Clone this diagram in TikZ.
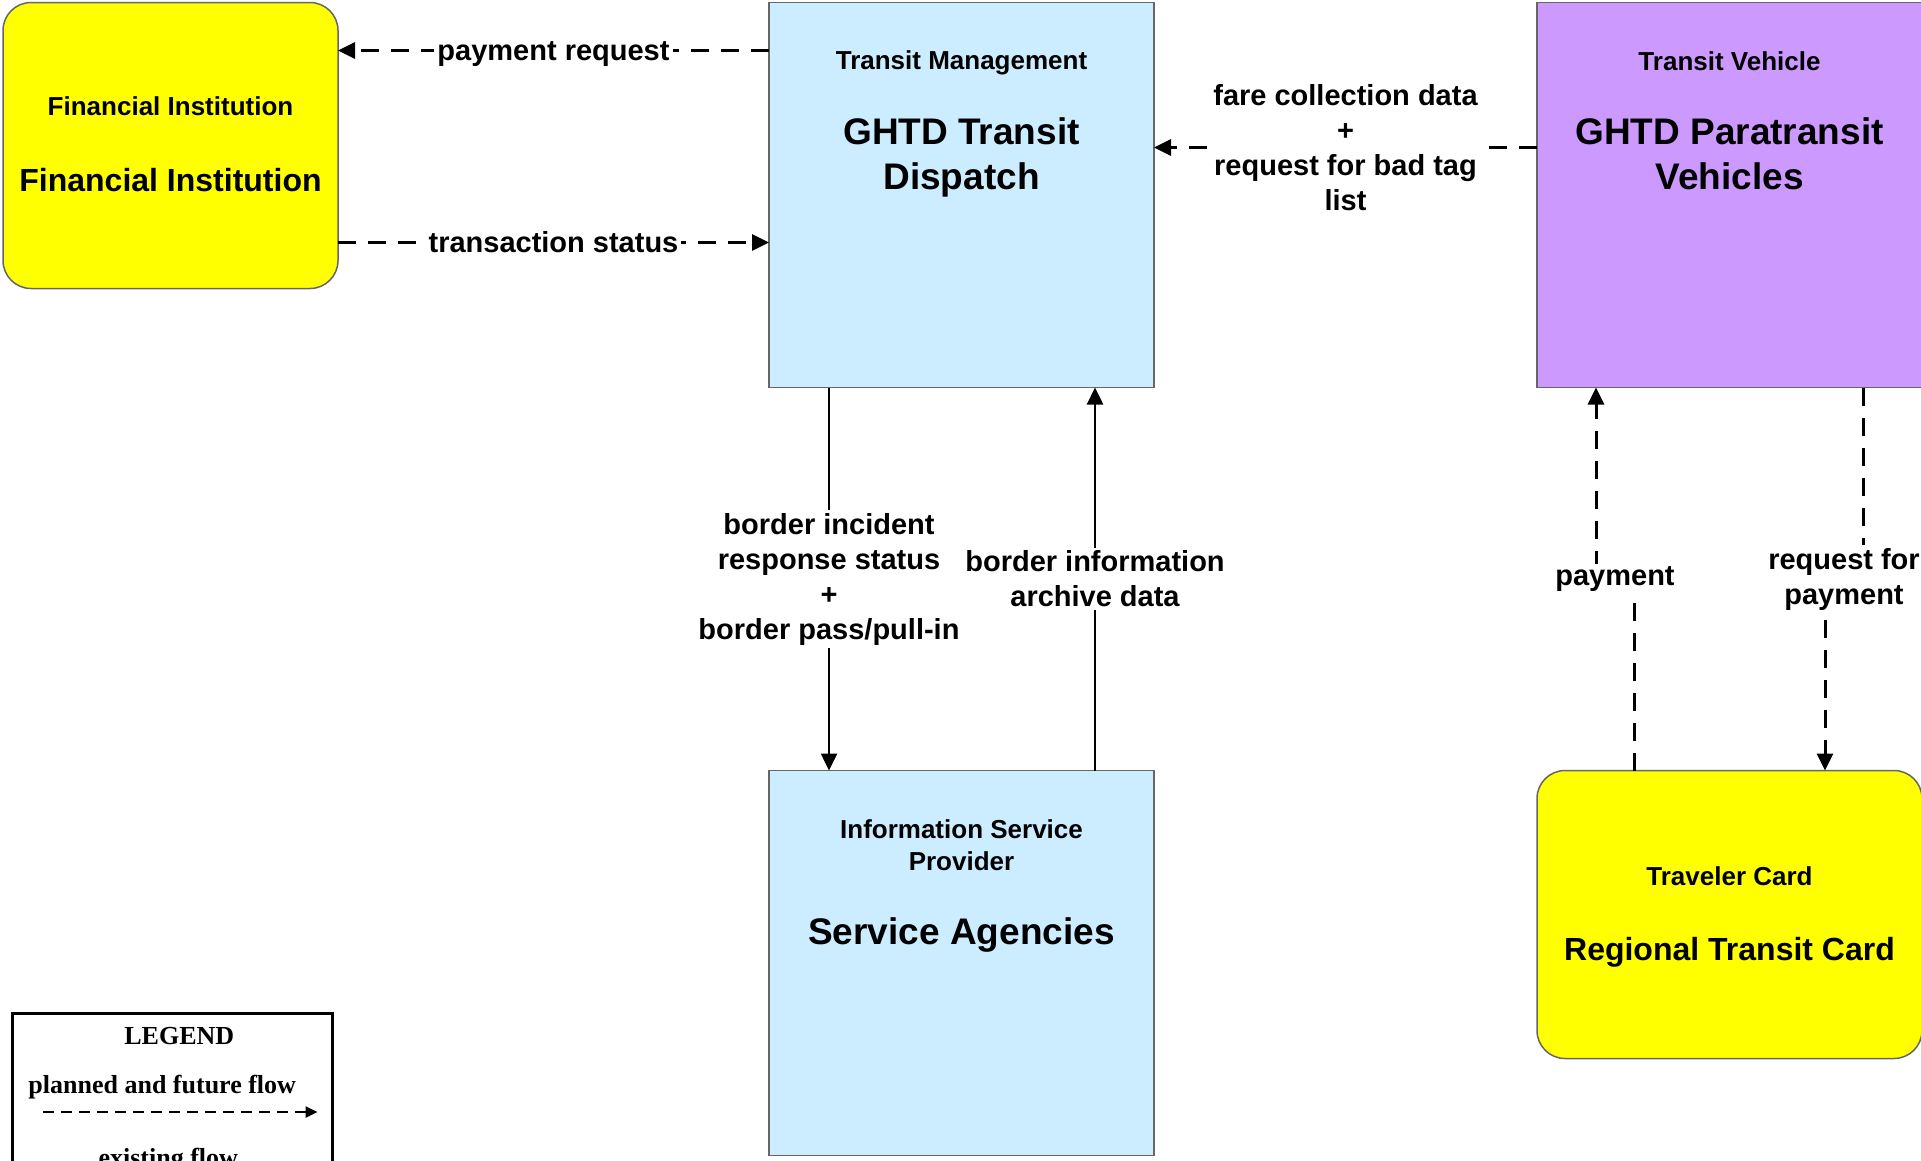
\documentclass[tikz,border=0pt]{standalone}
\usepackage{fontspec}
\setmainfont{Liberation Sans}
\newfontfamily\legendfont{Liberation Serif}
\usetikzlibrary{positioning, calc, arrows.meta}
\definecolor{skyblue}{HTML}{CCECFF}
\definecolor{lilac}{HTML}{CC99FF}
\definecolor{cardyellow}{HTML}{FFFF00}

\begin{document}
\begin{tikzpicture}[x=1pt, y=1pt,
					box/.style={draw=black!60, line width=1.5pt, minimum width=385pt, minimum height=385pt, inner sep=0pt, outer sep=0pt},
					bluebox/.style={box, fill=skyblue},
					vehiclebox/.style={box, fill=lilac},
					cardbox/.style={box, fill=cardyellow, rounded corners=28pt, minimum height=288pt},
					classtext/.style={font=\bfseries\fontsize{26}{32}\selectfont, align=center},
					nametext/.style={font=\bfseries\fontsize{37}{45}\selectfont, align=center},
					flowlabel/.style={font=\bfseries\fontsize{29}{35}\selectfont, align=center, fill=white, inner sep=3pt},
					legendtext/.style={font=\legendfont\bfseries\fontsize{26}{31}\selectfont},
					future/.style={line width=3pt, dash pattern=on 18pt off 12pt, -{Triangle[length=17pt, width=16pt]}},
					existing/.style={line width=2.5pt, -{Triangle[length=17pt, width=16pt]}},
					node distance=383pt and 383pt]
				\useasboundingbox (0,0) rectangle (1921,-1160);
				\node[bluebox, anchor=north west] (tm) at (769,-2.5) {};
				\node[vehiclebox, right=of tm]    (tv)  {};
				\node[bluebox, below=of tm]       (isp) {};
				\node[cardbox, below=of tv]       (tc)  {};
				\node[cardbox, minimum width=335pt, minimum height=286pt, left=431pt of tm.north west, anchor=north east] (fi) {};
				\node[classtext] at ([yshift=-104pt]fi.north) {Financial Institution};
				\node[nametext, font=\bfseries\fontsize{32}{38}\selectfont] at ([yshift=-178pt]fi.north) {Financial Institution};
				\node[classtext] at ([yshift=-60.5pt]tm.north) {Transit Management};
				\node[nametext]  at ([yshift=-155pt]tm.north) {GHTD Transit\\Dispatch};
				\node[classtext] at ([yshift=-58.5pt]tv.north) {Transit Vehicle};
				\node[nametext]  at ([yshift=-151.5pt]tv.north) {GHTD Paratransit\\Vehicles};
				\node[classtext] at ([yshift=-74.5pt]isp.north) {Information Service\\Provider};
				\node[nametext]  at ([yshift=-164pt]isp.north) {Service Agencies};
				\node[classtext] at ([yshift=-105.5pt]tc.north) {Traveler Card};
				\node[nametext, font=\bfseries\fontsize{32}{38}\selectfont] at ([yshift=-182pt]tc.north) {Regional Transit Card};
				\coordinate (reqpt)  at ([yshift=-48pt]tm.north west);
				\coordinate (statpt) at ([yshift=-240pt]tm.north west);
				\coordinate (farept) at ([yshift=-145pt]tv.north west);
				\draw[future] (reqpt) -- node[flowlabel, yshift=-4pt] {payment request} (reqpt -| fi.east);
				\draw[future] (statpt -| fi.east) -- node[flowlabel] {transaction status} (statpt);
				\draw[future] (farept) -- node[flowlabel] {fare collection data\\+\\request for bad tag\\list} (farept -| tm.east);
				\draw[existing] ([xshift=60pt]tm.south west) -- node[flowlabel] {border incident\\response status\\+\\border pass/pull-in} ([xshift=60pt]isp.north west);
				\draw[existing] ([xshift=-59pt]isp.north east) -- node[flowlabel] {border information\\archive data} ([xshift=-59pt]tm.south east);
				\coordinate (payin)  at ([xshift=97pt]tc.north west);
				\coordinate (payout) at ([xshift=59pt]tv.south west);
				\coordinate (paymid) at ($(payin)!0.5!(payout)$);
				\draw[future] (payin) -- (payin |- paymid) -- (payout |- paymid) -- (payout);
				\node[flowlabel] at (paymid) {payment};
				\coordinate (askout) at ([xshift=-59pt]tv.south east);
				\coordinate (askin)  at ([xshift=-97pt]tc.north east);
				\coordinate (askmid) at ($(askout)!0.5!(askin)$);
				\draw[future] (askout) -- (askout |- askmid) -- (askin |- askmid) -- (askin);
				\node[flowlabel] at (askmid) {request for\\payment};
				\node[draw, line width=2.5pt, minimum width=320pt, minimum height=200pt, inner sep=0pt, anchor=north west] (legend) at (11,-1012) {};
				\node[legendtext] at ([xshift=7pt, yshift=-24pt]legend.north) {LEGEND};
				\node[legendtext] at ([xshift=-10pt, yshift=-75pt]legend.north) {planned and future flow};
				\coordinate (keyfrom) at ([xshift=32pt, yshift=-100pt]legend.north west);
				\coordinate (keyto)   at ([xshift=-16pt, yshift=-100pt]legend.north east);
				\draw[line width=2.5pt, dash pattern=on 11pt off 7pt, -{Triangle[length=12pt, width=11pt]}] (keyfrom) -- (keyto);
				\node[legendtext] at ([xshift=-4pt, yshift=-148pt]legend.north) {existing flow};
			\end{tikzpicture}
\end{document}
